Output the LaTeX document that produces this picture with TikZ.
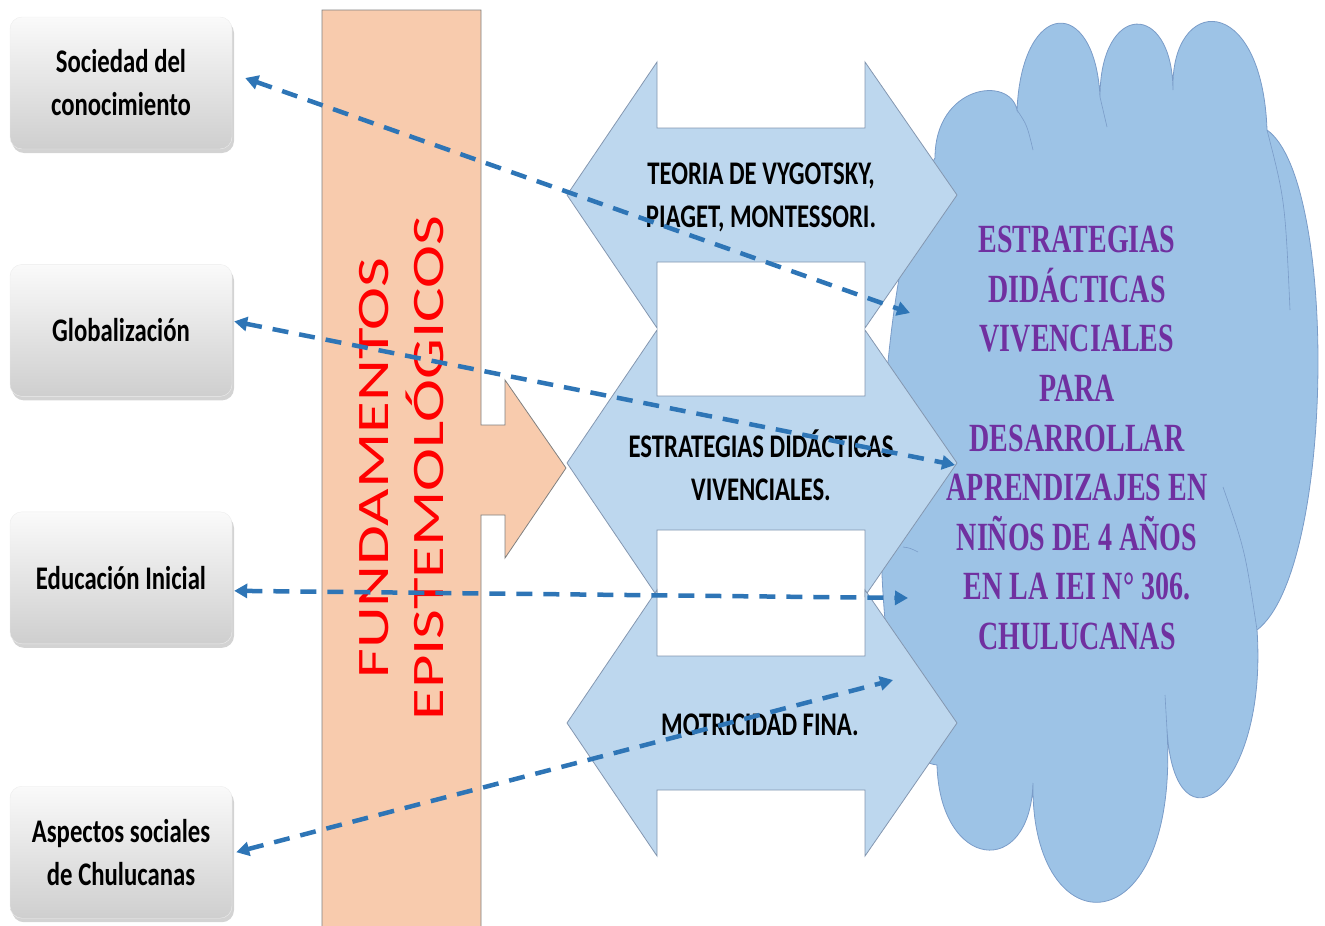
\documentclass[tikz,border=0pt]{standalone}
\usepackage{fontspec}
\setmainfont{Carlito}
\newfontfamily\boxfont[FakeStretch=0.75]{Carlito}
\newfontfamily\fundfont[FakeStretch=1.44]{Carlito}
\newfontfamily\cloudfont[FakeStretch=0.70]{Liberation Serif}
\usetikzlibrary{positioning,calc,arrows.meta,shadows}

\definecolor{peach}{HTML}{F8CBAD}
\definecolor{arrowblue}{HTML}{BDD7EE}
\definecolor{cloudblue}{HTML}{9DC3E6}
\definecolor{cloudline}{HTML}{7A9CC8}
\definecolor{linkblue}{HTML}{2E75B6}
\definecolor{metapurple}{HTML}{7030A0}
\definecolor{edgegray}{HTML}{8497B0}

\begin{document}
\begin{tikzpicture}[
        x=1pt, y=-1pt,
        topic/.style={draw=gray!15, rounded corners=12pt, top color=gray!4, bottom color=gray!38,
            minimum width=222pt, minimum height=132pt, align=center,
            font=\boxfont\bfseries\fontsize{33}{43}\selectfont,
            drop shadow={shadow xshift=2pt, shadow yshift=-4pt, opacity=0.35}},
        dblarrow/.style={fill=arrowblue, draw=edgegray, line width=0.8pt},
        arrowtext/.style={align=center, font=\boxfont\bfseries\fontsize{33}{43}\selectfont},
        link/.style={draw=linkblue, line width=4.5pt, dash pattern=on 16pt off 11pt,
            {Triangle[length=13pt,width=14pt]}-{Triangle[length=13pt,width=14pt]}}
    ]
    \useasboundingbox (0,0) rectangle (1325,926);

    % nube
    \path[fill=cloudblue, draw=cloudline, line width=0.8pt]
        (935,158) .. controls (935,85) and (1010,75) .. (1017,110)
        .. controls (1022,-2) and (1095,-5) .. (1100,97)
        .. controls (1100,2) and (1172,0) .. (1173,90)
        .. controls (1170,-5) and (1262,-10) .. (1267,130)
        .. controls (1338,180) and (1335,570) .. (1257,630)
        .. controls (1268,790) and (1175,860) .. (1167,730)
        .. controls (1180,950) and (1030,950) .. (1033,783)
        .. controls (1030,880) and (940,870) .. (937,765)
        .. controls (895,760) and (870,680) .. (885,620)
        .. controls (870,450) and (895,220) .. (935,158) -- cycle;
    \draw[cloudline, line width=0.6pt]
        (1017,110) .. controls (1027,125) .. (1033,150)
        (1100,97) .. controls (1104,112) .. (1107,127)
        (1267,130) .. controls (1285,200) .. (1290,310)
        (1257,630) .. controls (1245,550) .. (1223,487)
        (1167,730) .. controls (1166,712) .. (1165,695)
        (903,547) .. controls (910,548) .. (918,552);

    % flechas dobles
    \foreach \c in {195,463,723}
        \draw[dblarrow] (567,\c) -- (657,{\c-133}) -- (657,{\c-67}) -- (865,{\c-67})
            -- (865,{\c-133}) -- (957,\c) -- (865,{\c+133}) -- (865,{\c+67})
            -- (657,{\c+67}) -- (657,{\c+133}) -- cycle;

    % barra de fundamentos
    \fill[peach] (322,10) -- (481,10) -- (481,425) -- (505,425) -- (505,380) -- (566,468)
        -- (505,558) -- (505,515) -- (481,515) -- (481,926) -- (322,926) -- cycle;
    \draw[gray, line width=0.8pt] (322,926) -- (322,10) -- (481,10) -- (481,425) -- (505,425)
        -- (505,380) -- (566,468) -- (505,558) -- (505,515) -- (481,515) -- (481,926);
    \node[rotate=90, align=center, text=red, font=\fundfont\fontsize{45}{55}\selectfont]
        (fund) at (402,468) {FUNDAMENTOS\\EPISTEMOLÓGICOS};

    % cuadros
    \node[topic] (soc) at (121,83) {Sociedad del\\conocimiento};
    \node[topic, below=115pt of soc] (glob) {Globalización};
    \node[topic, below=115pt of glob] (edu) {Educación Inicial};
    \node[topic, below=142pt of edu] (asp) {Aspectos sociales\\de Chulucanas};

    % textos
    \node[arrowtext] (teoria) at (761,197) {TEORIA DE VYGOTSKY,\\PIAGET, MONTESSORI.};
    \node[arrowtext] (estrat) at (761,465) {ESTRATEGIAS DIDÁCTICAS\\VIVENCIALES.};
    \node[arrowtext] (motri) at (760,725) {MOTRICIDAD FINA.};
    \node[align=center, text=metapurple, font=\cloudfont\bfseries\fontsize{40}{49.6}\selectfont]
        (meta) at (1077,438) {ESTRATEGIAS\\DIDÁCTICAS\\VIVENCIALES\\PARA\\DESARROLLAR\\APRENDIZAJES EN\\NIÑOS DE 4 AÑOS\\EN LA IEI N° 306.\\CHULUCANAS};

    % conectores
    \coordinate (t1) at (910,313);
    \coordinate (t2) at (955,465);
    \coordinate (t3) at (908,598);
    \coordinate (t4) at (893,680);
    \draw[link] ([xshift=13pt,yshift=5pt]soc.east) -- (t1);
    \draw[link] ([xshift=2pt,yshift=9pt]glob.east) -- (t2);
    \draw[link] ([xshift=2pt,yshift=-13pt]edu.east) -- (t3);
    \draw[link] ([xshift=4pt]asp.east) -- (t4);
\end{tikzpicture}
\end{document}
